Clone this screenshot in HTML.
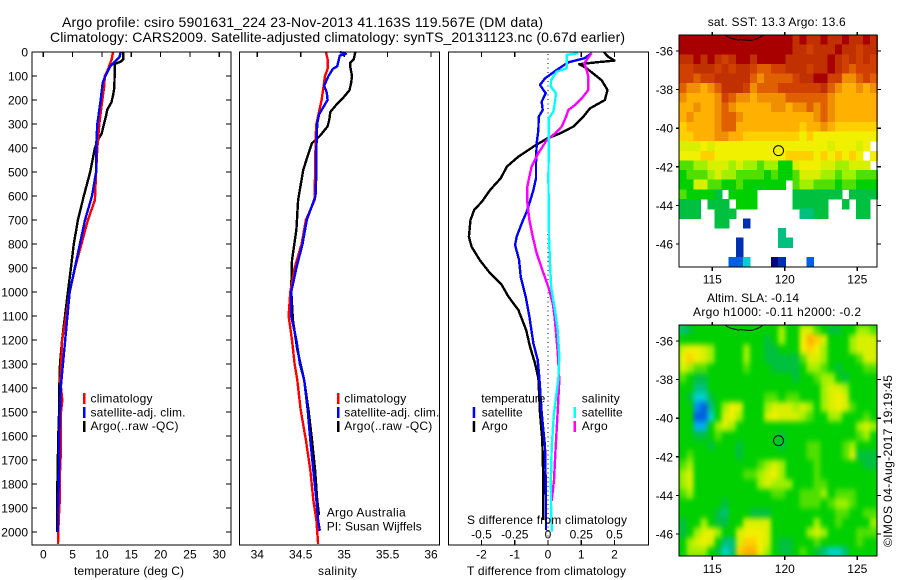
<!DOCTYPE html>
<html>
<head>
<meta charset="utf-8">
<title>Argo profile</title>
<style>
html,body{margin:0;padding:0;background:#fff;}
svg{display:block;}
text{font-family:"Liberation Sans",sans-serif;font-size:12px;fill:#000;}
.t{font-size:14px;}
.mark{fill:none;stroke-width:2.4;shape-rendering:crispEdges;stroke-linejoin:round;}
.frame{fill:none;stroke:#000;stroke-width:1.4;shape-rendering:crispEdges;}
</style>
</head>
<body>
<svg id="chart" width="900" height="580" viewBox="0 0 900 580" xmlns="http://www.w3.org/2000/svg">
<defs>
<clipPath id="slaClip"><rect x="679" y="325" width="198" height="231"/></clipPath>
<filter id="slaBlur" filterUnits="userSpaceOnUse" x="660" y="305" width="240" height="270" color-interpolation-filters="sRGB"><feGaussianBlur stdDeviation="2 3"/></filter>
</defs>
<rect width="900" height="580" fill="#fff"/>
<text class="t" x="62" y="27" textLength="481" lengthAdjust="spacing">Argo profile: csiro 5901631_224 23-Nov-2013 41.163S 119.567E (DM data)</text>
<text class="t" x="50" y="42" textLength="575" lengthAdjust="spacing">Climatology: CARS2009. Satellite-adjusted climatology: synTS_20131123.nc (0.67d earlier)</text>

<g id="sstCells"></g>
<g clip-path="url(#slaClip)">
<rect x="679" y="325" width="198" height="231" fill="#00d000"/>
<g id="slaCells" filter="url(#slaBlur)"></g>
</g>
<g id="axes"></g>
<g id="lines"></g>

<rect class="frame" x="32" y="52" width="199" height="493"/>
<rect class="frame" x="239.5" y="52" width="200" height="493"/>
<rect class="frame" x="448.5" y="52" width="200" height="493"/>
<rect class="frame" x="679" y="35" width="198" height="232"/>
<rect class="frame" x="679" y="325" width="198" height="231"/>

<text x="318" y="575" textLength="39" lengthAdjust="spacing">salinity</text>
<text x="74" y="575" textLength="110" lengthAdjust="spacing">temperature (deg C)</text>
<text x="467" y="575" textLength="159" lengthAdjust="spacing">T difference from climatology</text>
<text x="467" y="524" textLength="160" lengthAdjust="spacing">S difference from climatology</text>

<g>
<rect x="83" y="393" width="2.5" height="11" fill="#f00"/>
<rect x="83" y="407" width="2.5" height="11" fill="#00f"/>
<rect x="83" y="421" width="2.5" height="11" fill="#000"/>
<text x="90.5" y="402.7" textLength="62" lengthAdjust="spacing">climatology</text>
<text x="90.5" y="416.7" textLength="95" lengthAdjust="spacing">satellite-adj. clim.</text>
<text x="90.5" y="430" textLength="88" lengthAdjust="spacing">Argo(..raw -QC)</text>
</g>
<g>
<rect x="337" y="393" width="2.5" height="11" fill="#f00"/>
<rect x="337" y="407" width="2.5" height="11" fill="#00f"/>
<rect x="337" y="421" width="2.5" height="11" fill="#000"/>
<text x="344.3" y="402.7" textLength="62" lengthAdjust="spacing">climatology</text>
<text x="344.3" y="416.7" textLength="95" lengthAdjust="spacing">satellite-adj. clim.</text>
<text x="344.3" y="430" textLength="88" lengthAdjust="spacing">Argo(..raw -QC)</text>
<text x="326.7" y="516.7" textLength="79" lengthAdjust="spacing">Argo Australia</text>
<text x="326.7" y="530.7" textLength="95" lengthAdjust="spacing">PI: Susan Wijffels</text>
</g>
<g>
<text x="481.3" y="402.7" textLength="64" lengthAdjust="spacing">temperature</text>
<text x="481.7" y="416.7" textLength="41" lengthAdjust="spacing">satellite</text>
<text x="481.7" y="430" textLength="26" lengthAdjust="spacing">Argo</text>
<rect x="472.7" y="407" width="2.5" height="11" fill="#00f"/>
<rect x="472.7" y="421" width="2.5" height="11" fill="#000"/>
<text x="581.7" y="402.7" textLength="38" lengthAdjust="spacing">salinity</text>
<text x="581.7" y="416.7" textLength="41" lengthAdjust="spacing">satellite</text>
<text x="581.7" y="430" textLength="26" lengthAdjust="spacing">Argo</text>
<rect x="573.5" y="407" width="2.5" height="11" fill="#0ff"/>
<rect x="573.5" y="421" width="2.5" height="11" fill="#f0f"/>
</g>

<text x="707.7" y="26" textLength="138" lengthAdjust="spacing">sat. SST: 13.3 Argo: 13.6</text>
<text x="707" y="302" textLength="92" lengthAdjust="spacing">Altim. SLA: -0.14</text>
<text x="693" y="316" textLength="168" lengthAdjust="spacing">Argo h1000: -0.11 h2000: -0.2</text>
<text transform="translate(892,547) rotate(-90)" textLength="172" lengthAdjust="spacing">©IMOS 04-Aug-2017 19:19:45</text>

<path d="M725,35 Q730,39 737,39.5 L738,40.5 L740,39.5 L745,40 L750,40.5 Q758,39.5 763,35" fill="none" stroke="#000" stroke-width="1"/>
<path d="M725,325 Q730,329 737,329.5 L738,330.5 L740,329.5 L745,330 L750,330.5 Q758,329.5 763,325" fill="none" stroke="#000" stroke-width="1"/>
<circle id="sstFloat" r="5" fill="none" stroke="#000" stroke-width="1"/>
<circle id="slaFloat" r="5" fill="none" stroke="#000" stroke-width="1"/>
</svg>

<script>
const _ = null;

/* ---------- depth profiles ---------- */
const tempClimDepth = [0,30,80,100,150,200,300,400,500,617,700,900,1000,1100,1200,1370,1450,1500,1650,1750,1850,1950,2050];
const tempClim = [11.9,11.65,10.9,10.5,10.35,10.06,9.55,9.2,9.0,8.8,7.6,5.4,4.5,3.9,3.2,2.9,3.24,3.02,3.02,2.85,2.85,2.62,2.5];
const tempSatDepth = [0,20,40,60,100,130,200,300,400,500,600,700,1000,1400,1500,1600,1700,1800,1900,2000];
const tempSat = [13.2,13.0,12.2,11.4,10.57,10.1,9.78,9.2,9.0,9.0,8.3,7.1,4.5,2.96,2.85,2.73,2.73,2.62,2.5,2.5];
const tempArgoDepth = [0,30,40,50,100,150,180,210,240,265,300,340,360,400,500,600,700,800,900,1000,1100,1200,1300,1400,1500,1600,1800,1900,2000];
const tempArgo = [13.65,13.65,13.2,12.2,12.15,12.1,11.9,11.6,10.9,10.7,10.35,9.95,9.44,8.8,8.0,6.9,5.9,5.2,4.7,4.2,3.7,3.2,2.85,2.73,2.7,2.56,2.4,2.35,2.35];

const salClimDepth = [0,30,70,100,150,200,250,300,360,400,617,700,800,900,1000,1100,1200,1300,1367,1492,1617,1742,1867,1950,2050];
const salClim = [34.79,34.81,34.81,34.78,34.76,34.74,34.71,34.68,34.67,34.67,34.66,34.56,34.51,34.43,34.38,34.36,34.4,34.43,34.46,34.5,34.56,34.61,34.645,34.68,34.7];
const salSatDepth = [0,8,15,30,60,70,100,140,170,200,230,260,300,400,500,600,700,800,900,1000,1100,1200,1300,1367,1492,1617,1742,1867,1950,1995];
const salSat = [34.95,35.02,34.95,34.94,34.92,34.87,34.82,34.77,34.8,34.81,34.76,34.71,34.69,34.68,34.68,34.67,34.57,34.52,34.45,34.39,34.39,34.45,34.49,34.54,34.58,34.61,34.645,34.68,34.7,34.72];
const salArgoDepth = [0,30,45,60,100,130,160,190,220,250,280,310,350,380,400,490,617,740,867,990,1117,1240,1367,1492,1617,1742,1867,1930];
const salArgo = [35.13,35.11,35.07,35.07,35.09,35.08,35.06,34.99,34.91,34.84,34.83,34.81,34.72,34.63,34.61,34.53,34.47,34.45,34.4,34.39,34.41,34.46,34.54,34.59,34.63,34.665,34.69,34.71];

const dtSatDepth = [5,26,43,75,110,137,172,207,242,270,325,380,464,526,575,658,714,769,804,867,936,1019,1103,1214,1283,1360,1505,1644,1853,1992];
const dtSat = [1.31,1.1,0.61,0.26,-0.09,-0.24,-0.07,-0.19,-0.16,-0.28,-0.29,-0.34,-0.36,-0.36,-0.44,-0.62,-0.79,-0.94,-0.99,-0.87,-0.82,-0.67,-0.56,-0.44,-0.31,-0.26,-0.19,-0.09,-0.06,-0.06];
const dtArgoDepth = [0,19,36,43,51,68,117,158,200,235,270,311,339,360,394,436,478,526,575,624,658,700,769,811,867,922,971,1019,1075,1158,1228,1297,1360,1505,1617,1783,1950];
const dtArgo = [1.68,1.8,2.0,1.46,0.94,1.16,1.61,1.79,1.71,1.26,1.06,0.76,0.36,-0.02,-0.44,-0.89,-1.24,-1.42,-1.74,-1.99,-2.22,-2.33,-2.38,-2.3,-2.05,-1.74,-1.39,-1.19,-0.89,-0.66,-0.54,-0.39,-0.29,-0.24,-0.17,-0.14,-0.14];
const dsSatDepth = [5,12,68,82,117,144,172,207,249,276,367,526,769,880,978,1075,1158,1269,1360,1505,1644,1783,1922,1998];
const dsSat = [0.228,0.14,0.14,0.065,0.023,0.021,0.06,0.053,0.04,0.005,0.006,0.003,0.0075,0.015,0.023,0.053,0.073,0.085,0.078,0.045,0.028,0.022,0.023,0.03];
const dsArgoDepth = [5,25,47,75,103,158,186,221,242,270,311,339,367,422,478,526,561,630,700,769,839,908,978,1047,1103,1250,1367,1505,1644,1783,1870];
const dsArgo = [0.328,0.3,0.273,0.29,0.303,0.303,0.265,0.203,0.153,0.135,0.103,0.053,-0.01,-0.073,-0.123,-0.143,-0.155,-0.155,-0.14,-0.115,-0.085,-0.043,0.002,0.035,0.05,0.073,0.085,0.072,0.058,0.045,0.028];

/* ---------- tick labels ---------- */
const depthTicks = [0,100,200,300,400,500,600,700,800,900,1000,1100,1200,1300,1400,1500,1600,1700,1800,1900,2000];
const tempTicks = [0,5,10,15,20,25,30];
const salTicks = [34,34.5,35,35.5,36];
const dtTicks = [-2,-1,0,1,2];
const dsTicks = [-0.5,-0.25,0,0.25,0.5];
const lonTicks = [115,120,125];
const latTicks = [-36,-38,-40,-42,-44,-46];
const floatLon = 119.567;
const floatLat = -41.163;

/* ---------- maps: colour level per cell, 0.5 deg rows north to south ---------- */
const levelColors = ['#000060','#000080','#0030b0','#0060e0','#0090f0','#00b0f0','#00d0d0','#00c080','#00c040','#00d000','#50e000','#a0f000','#d8f000','#f0f000','#ffd000','#ffb000','#f09000','#e06000','#d04000','#c03000','#a80000'];
const sstRows = [
[20,20,20,20,20,20,20,20,20,20,20,20,20,20,20,20,19,20,19,19,20,19,19,20,19,19,20,19],
[20,20,20,20,20,20,20,20,20,20,20,20,20,20,20,20,19,19,18,19,19,19,20,19,19,18,19,19],
[19,19,20,19,20,19,18,19,20,20,19,20,20,20,20,19,19,19,19,19,19,20,19,18,19,18,19,18],
[18,18,19,19,19,18,19,18,19,19,18,17,17,18,18,19,19,19,18,19,19,20,19,18,17,18,18,18],
[18,18,17,18,18,19,19,19,19,19,17,16,17,17,17,17,18,19,19,20,20,18,18,16,16,17,18,17],
[17,16,16,15,16,17,19,19,19,18,16,17,17,17,18,18,18,18,18,18,19,17,16,15,15,16,15,16],
[16,15,15,15,15,16,18,17,16,16,15,16,16,16,16,17,17,17,17,17,17,16,15,15,15,15,15,15],
[15,15,16,15,15,16,17,16,15,15,15,15,15,16,16,15,16,16,17,16,17,16,15,15,15,15,15,15],
[15,16,15,15,15,16,17,17,16,15,15,15,15,15,15,15,15,15,15,16,17,16,15,15,15,15,15,15],
[14,15,15,15,15,16,17,17,15,15,15,15,15,15,15,15,15,14,15,15,16,15,14,14,14,14,14,14],
[14,14,15,15,15,16,16,15,15,14,14,14,14,14,14,14,14,13,14,13,13,13,13,13,13,13,13,13],
[12,12,12,13,12,13,13,13,13,13,13,13,13,13,13,13,13,13,13,13,13,12,13,13,13,12,13,_],
[13,13,13,14,14,13,13,13,13,13,13,13,13,13,13,14,14,14,14,13,14,13,14,13,14,13,_,13],
[10,10,11,11,12,12,12,11,12,11,11,10,11,11,9,9,12,13,13,13,12,12,11,11,12,12,12,_],
[9,10,10,10,11,12,11,11,10,10,10,10,9,10,9,9,10,12,12,12,11,11,10,11,11,10,10,10],
[9,9,12,12,10,10,9,9,10,9,9,9,9,9,9,_,10,11,11,10,10,10,9,10,10,9,9,9],
[10,9,9,9,9,8,_,9,9,9,9,_,_,_,_,_,8,8,8,8,8,8,8,_,8,8,8,8],
[8,8,8,_,8,8,8,_,9,9,9,_,_,_,_,_,8,8,8,8,8,_,_,8,_,8,8,_],
[8,8,8,_,_,8,8,8,_,_,_,_,_,_,_,_,_,7,7,8,8,_,_,_,_,8,8,_],
[_,_,_,_,_,8,8,_,_,2,_,_,_,_,_,_,_,_,_,_,_,_,_,_,_,_,_,_],
[_,_,_,_,_,_,_,_,_,_,_,_,_,_,7,_,_,_,_,_,_,_,_,_,_,_,_,_],
[_,_,_,_,_,_,_,_,2,_,_,_,_,_,7,7,_,_,_,_,_,_,_,_,_,_,_,_],
[_,_,_,_,_,_,_,_,2,_,_,_,_,_,_,_,_,_,_,_,_,_,_,_,_,_,_,_],
[_,_,_,_,_,_,_,3,3,6,_,_,_,1,2,_,_,_,3,_,_,_,_,_,_,_,_,_]
];
const slaRows = [
[7,8,9,9,9,9,9,9,9,9,9,9,9,9,11,9,9,12,12,10,9,8,8,9,9,11,11,10],
[9,9,9,9,9,9,9,9,9,9,9,9,8,9,11,9,9,13,15,14,12,9,9,9,11,12,12,12],
[12,13,13,12,11,9,9,9,9,11,9,9,8,8,9,9,9,13,14,13,11,9,9,9,11,12,12,12],
[13,14,13,12,11,9,9,9,9,11,9,9,8,8,8,8,8,10,12,12,11,9,9,9,9,10,12,12],
[12,11,10,10,9,9,9,9,9,10,9,9,9,8,8,8,8,9,11,11,10,9,8,9,9,9,10,10],
[10,9,8,8,9,9,9,9,9,9,9,9,9,9,9,9,8,9,9,10,11,11,9,8,9,9,9,9],
[9,9,7,7,9,9,9,9,9,9,9,9,9,9,9,9,9,9,9,9,11,12,12,11,9,9,9,9],
[9,8,6,6,8,9,9,9,9,9,9,9,10,10,9,10,10,9,9,9,11,12,13,12,9,9,9,9],
[9,9,4,3,7,9,11,13,12,9,9,9,11,12,12,12,11,12,11,9,11,12,13,12,10,9,9,9],
[9,9,3,3,6,9,12,13,11,9,9,9,12,13,12,12,12,11,10,9,9,11,11,9,9,9,10,9],
[9,9,5,5,9,11,12,11,9,9,9,9,9,9,9,9,9,9,9,9,9,9,9,9,9,11,12,11],
[9,9,8,8,9,10,9,9,9,9,9,9,9,9,8,9,9,9,9,9,9,9,9,9,9,10,11,9],
[9,9,9,9,8,9,9,9,8,9,9,9,9,9,8,9,9,9,10,10,9,9,9,10,11,9,9,9],
[9,10,9,9,9,9,9,9,8,9,9,9,9,9,9,9,9,9,10,10,9,9,9,10,12,8,8,8],
[10,11,9,9,9,9,9,9,9,9,9,10,11,12,11,9,9,9,9,10,9,9,9,9,9,9,8,8],
[11,12,9,9,9,9,9,9,9,10,10,11,12,13,11,9,9,9,9,10,9,9,9,9,9,9,9,9],
[11,12,9,9,9,9,9,9,9,9,9,11,12,11,11,11,9,9,9,10,10,9,9,9,9,9,9,9],
[10,11,9,9,9,9,9,9,9,9,9,9,9,10,10,9,9,10,10,10,11,9,10,10,10,9,9,9],
[9,9,9,9,9,9,8,9,9,9,9,9,9,9,9,9,9,10,10,10,9,10,11,11,10,9,9,9],
[9,9,9,9,9,8,7,9,9,9,8,8,8,9,9,9,9,9,9,9,9,9,10,10,9,9,10,10],
[8,9,9,11,9,8,8,9,9,12,12,12,12,9,9,9,9,9,9,11,9,9,10,9,9,9,9,11],
[8,9,11,12,13,11,9,9,12,13,13,13,12,9,9,9,9,9,11,12,11,9,9,9,9,10,10,10],
[9,11,12,13,12,9,7,7,12,14,14,13,12,9,8,8,9,9,9,10,9,9,9,9,9,10,9,9],
[9,11,11,11,9,8,6,7,14,15,15,13,11,9,8,8,9,10,9,8,7,6,6,7,9,9,9,9]
];

/* ---------- axis functions ---------- */
const depthY = d => 52 + d * 0.24;
const tempX = v => 43.3 + v * 5.867;
const salX = v => 257.3 + (v - 34) * 86.85;
const dtX = v => 548 + v * 33.25;
const dsX = v => 548 + v * 133;
const lonX = v => 712.3 + (v - 115) * 14.5;
const sstLatY = v => 51 - (v + 36) * 19.3;
const slaLatY = v => 341 - (v + 36) * 19.3;
const gridLon0 = 112.72, gridDLon = 0.4875, gridLat0 = -35.17, gridDLat = 0.5;

const NS = 'http://www.w3.org/2000/svg';
const axes = document.getElementById('axes');
const lines = document.getElementById('lines');

function addLine(x1, y1, x2, y2) {
  const el = document.createElementNS(NS, 'line');
  el.setAttribute('x1', x1);
  el.setAttribute('y1', y1);
  el.setAttribute('x2', x2);
  el.setAttribute('y2', y2);
  el.setAttribute('stroke', '#000');
  el.setAttribute('stroke-width', '1.2');
  el.setAttribute('shape-rendering', 'crispEdges');
  
  
  axes.appendChild(el);
}
function addLabel(x, y, str, anchor) {
  const el = document.createElementNS(NS, 'text');
  el.setAttribute('x', x);
  el.setAttribute('y', y);
  el.setAttribute('text-anchor', anchor);
  el.textContent = str;
  
  
  axes.appendChild(el);
}
function addProfile(xs, ds, xf, color, name) {
  const el = document.createElementNS(NS, 'polyline');
  el.setAttribute('class', 'mark');
  el.setAttribute('stroke', color);
  el.setAttribute('points', xs.map((v, i) => xf(v).toFixed(1) + ',' + depthY(ds[i]).toFixed(1)).join(' '));
  
  
  lines.appendChild(el);
}
function drawMap(rows, parent, latY, name) {
  rows.forEach((row, r) => {
    row.forEach((lev, c) => {
      if (lev === null) return;
      const x0 = lonX(gridLon0 + c * gridDLon), x1 = lonX(gridLon0 + (c + 1) * gridDLon);
      const y0 = latY(gridLat0 - r * gridDLat), y1 = latY(gridLat0 - (r + 1) * gridDLat);
      const el = document.createElementNS(NS, 'rect');
      el.setAttribute('x', x0.toFixed(1));
      el.setAttribute('y', y0.toFixed(1));
      el.setAttribute('width', (x1 - x0 + 0.6).toFixed(1));
      el.setAttribute('height', (y1 - y0 + 0.6).toFixed(1));
      el.setAttribute('fill', levelColors[lev]);
      el.setAttribute('shape-rendering', 'crispEdges');
      
      
      parent.appendChild(el);
    });
  });
}

/* maps */
drawMap(sstRows, document.getElementById('sstCells'), sstLatY, 'sst-cell');
drawMap(slaRows, document.getElementById('slaCells'), slaLatY, 'sla-cell');
const sstFloat = document.getElementById('sstFloat');
sstFloat.setAttribute('cx', lonX(floatLon));
sstFloat.setAttribute('cy', sstLatY(floatLat));
const slaFloat = document.getElementById('slaFloat');
slaFloat.setAttribute('cx', lonX(floatLon));
slaFloat.setAttribute('cy', slaLatY(floatLat));

/* depth axis */
depthTicks.forEach(d => {
  addLine(32, depthY(d), 37, depthY(d));
  addLine(226, depthY(d), 231, depthY(d));
  addLabel(28, depthY(d) + 4.5, String(d), 'end');
});
/* temperature axis */
tempTicks.forEach(v => {
  addLine(tempX(v), 52, tempX(v), 57);
  addLabel(tempX(v), 558.7, String(v), 'middle');
});
/* salinity axis */
salTicks.forEach(v => {
  addLine(salX(v), 52, salX(v), 57);
  addLabel(salX(v), 558.7, String(v), 'middle');
});
/* difference axes */
dtTicks.forEach(v => {
  if (v !== 0) addLine(dtX(v), 52, dtX(v), 57);
  addLine(dtX(v), 540, dtX(v), 545);
  addLabel(dtX(v), 558.7, String(v), 'middle');
});
dsTicks.forEach(v => {
  addLabel(dsX(v), 538.7, String(v), 'middle');
});
/* zero line */
const zeroLine = document.createElementNS(NS, 'line');
zeroLine.setAttribute('x1', dtX(0));
zeroLine.setAttribute('x2', dtX(0));
zeroLine.setAttribute('y1', 54);
zeroLine.setAttribute('y2', 545);
zeroLine.setAttribute('stroke', '#000');
zeroLine.setAttribute('stroke-width', '1');
zeroLine.setAttribute('stroke-dasharray', '1 3.5');
zeroLine.setAttribute('shape-rendering', 'crispEdges');


axes.appendChild(zeroLine);

/* map axes */
lonTicks.forEach(v => {
  addLine(lonX(v), 32, lonX(v), 35);
  addLine(lonX(v), 267, lonX(v), 271);
  addLabel(lonX(v), 283.3, String(v), 'middle');
  addLine(lonX(v), 322, lonX(v), 325);
  addLine(lonX(v), 556, lonX(v), 560);
  addLabel(lonX(v), 573, String(v), 'middle');
});
latTicks.forEach(v => {
  addLine(676, sstLatY(v), 679, sstLatY(v));
  addLine(877, sstLatY(v), 881, sstLatY(v));
  addLabel(673, sstLatY(v) + 4.5, String(v), 'end');
  addLine(676, slaLatY(v), 679, slaLatY(v));
  addLine(877, slaLatY(v), 881, slaLatY(v));
  addLabel(673, slaLatY(v) + 4.5, String(v), 'end');
});

/* profiles */
addProfile(tempArgo, tempArgoDepth, tempX, '#000', 'temperature-argo-line');
addProfile(tempClim, tempClimDepth, tempX, '#f00', 'temperature-climatology-line');
addProfile(tempSat, tempSatDepth, tempX, '#00f', 'temperature-satellite-line');
addProfile(salArgo, salArgoDepth, salX, '#000', 'salinity-argo-line');
addProfile(salClim, salClimDepth, salX, '#f00', 'salinity-climatology-line');
addProfile(salSat, salSatDepth, salX, '#00f', 'salinity-satellite-line');
addProfile(dtArgo, dtArgoDepth, dtX, '#000', 't-difference-argo-line');
addProfile(dtSat, dtSatDepth, dtX, '#00f', 't-difference-satellite-line');
addProfile(dsArgo, dsArgoDepth, dsX, '#f0f', 's-difference-argo-line');
addProfile(dsSat, dsSatDepth, dsX, '#0ff', 's-difference-satellite-line');
</script>
</body>
</html>
